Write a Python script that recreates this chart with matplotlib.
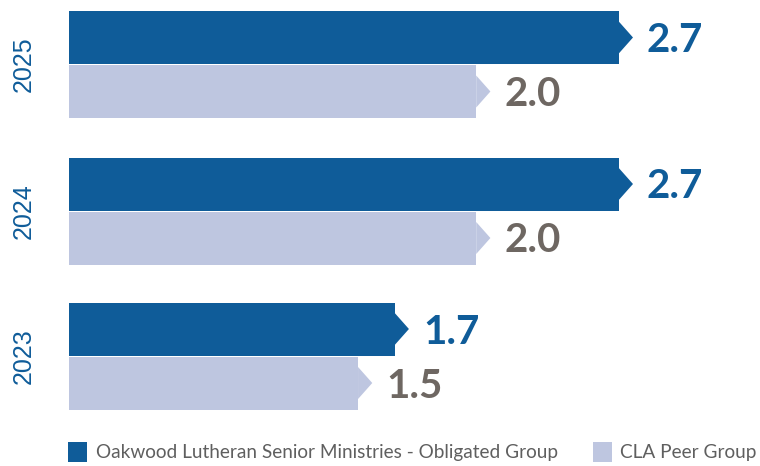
import matplotlib.pyplot as plt
from matplotlib.patches import Polygon, Patch

years = ["2025", "2024", "2023"]
oakwood = [2.70, 2.70, 1.60]          # bar lengths as drawn
peer = [2.00, 2.00, 1.42]
oakwood_labels = ["2.7", "2.7", "1.7"]
peer_labels = ["2.0", "2.0", "1.5"]
series_names = ["Oakwood Lutheran Senior Ministries - Obligated Group", "CLA Peer Group"]

BLUE = "#0f5c99"
LIGHT = "#bec6e0"
GREY_TXT = "#6e6762"

W, H = 760, 466
fig = plt.figure(figsize=(W / 100, H / 100), dpi=100)
ax = fig.add_axes([0, 0, 1, 1])

scale = 203.7            # px per unit
x0 = 69                  # px where value 0 sits
ax.set_xlim(-x0 / scale, (W - x0) / scale)
ax.set_ylim(H, 0)        # y in pixels, top down
ax.axis("off")

blue_y = [37.5, 184, 329]
bar_h = 53
tip_w = 14 / scale
tip_h = 16

for i, yr in enumerate(years):
    yb = blue_y[i]
    yl = yb + 54
    for y, v, col, lab, tcol in [(yb, oakwood[i], BLUE, oakwood_labels[i], BLUE),
                                 (yl, peer[i], LIGHT, peer_labels[i], GREY_TXT)]:
        ax.barh(y, v, height=bar_h, left=0, color=col, linewidth=0)
        ax.add_patch(Polygon([(v - 0.001, y - tip_h), (v + tip_w, y), (v - 0.001, y + tip_h)],
                             closed=True, color=col, linewidth=0))
        ax.text(v + tip_w + 14 / scale, y + 14.5, lab, fontsize=29, fontweight="bold",
                family="Lato", color=tcol, ha="left", va="baseline")
    ax.text(-38 / scale, (yb + yl) / 2, yr, rotation=90, rotation_mode="anchor",
            ha="center", va="baseline", fontsize=18, family="Liberation Sans", color=BLUE)

handles = [Patch(facecolor=BLUE, edgecolor="none"), Patch(facecolor=LIGHT, edgecolor="none")]
fig.legend(handles, series_names, loc="center left", bbox_to_anchor=(68 / W, 1 - 452 / H),
           ncol=2, frameon=False, handlelength=1.0, handleheight=1.3,
           handletextpad=0.45, columnspacing=1.85, borderpad=0, borderaxespad=0,
           labelcolor="#5f5f5f", prop={"family": "Lato", "size": 13.7})

fig.savefig("out.png", dpi=100)
